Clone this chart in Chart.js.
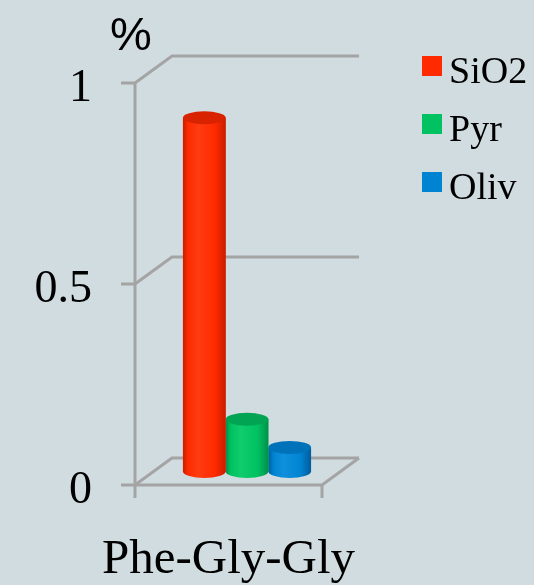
<!DOCTYPE html>
<html>
<head>
<meta charset="utf-8">
<script src="https://cdn.jsdelivr.net/npm/chart.js@4/dist/chart.umd.min.js"></script>
<style>
  html, body { margin: 0; padding: 0; background: #d0dce0; }
  #wrap { width: 534px; height: 585px; }
</style>
</head>
<body>
<div id="wrap"><canvas id="chart" width="534" height="585"></canvas></div>
<script>
const categories = ['Phe-Gly-Gly'];
const seriesNames = ['SiO2', 'Pyr', 'Oliv'];
const sio2Values = [0.88];
const pyrValues = [0.13];
const olivValues = [0.06];
const yTicks = [0, 0.5, 1];
const yLabels = ['0', '0.5', '1'];

const palette = [
    { mid: '#ff2a00', light: '#ff3c10', dark: '#c81e00', top: '#d92200' },
    { mid: '#00c262', light: '#10cc6c', dark: '#009048', top: '#00a452' },
    { mid: '#0084d2', light: '#1090dc', dark: '#005c9c', top: '#0072ba' }
];

const GRID = '#a4a4a4';
const DX = 37, DY = 27;
const SERIF = '"Liberation Serif", "Times New Roman", serif';

function drawCylinder(ctx, bar, c) {
    const { x, y, base, width } = bar.getProps(['x', 'y', 'base', 'width'], true);
    const l = x - width / 2, r = x + width / 2, ry = 6.5;
    const g = ctx.createLinearGradient(l, 0, r, 0);
    g.addColorStop(0, c.dark);
    g.addColorStop(0.12, c.mid);
    g.addColorStop(0.35, c.light);
    g.addColorStop(0.75, c.mid);
    g.addColorStop(1, c.dark);
    ctx.fillStyle = g;
    ctx.beginPath();
    ctx.moveTo(l, y);
    ctx.lineTo(l, base);
    ctx.ellipse(x, base, width / 2, ry, 0, Math.PI, 0, true);
    ctx.lineTo(r, y);
    ctx.closePath();
    ctx.fill();
    ctx.fillStyle = c.top;
    ctx.beginPath();
    ctx.ellipse(x, y, width / 2, ry, 0, 0, Math.PI * 2);
    ctx.fill();
}

const frame3d = {
    id: 'frame3d',
    beforeDatasetsDraw(chart) {
        const { ctx, chartArea: a, scales: { y } } = chart;
        const y0 = y.getPixelForValue(0);
        ctx.save();
        ctx.strokeStyle = GRID;
        ctx.lineWidth = 3;
        yTicks.forEach(v => {
            const py = y.getPixelForValue(v);
            ctx.beginPath();
            ctx.moveTo(a.left - 14, py);
            ctx.lineTo(a.left, py);
            ctx.lineTo(a.left + DX, py - DY);
            ctx.lineTo(a.right + DX, py - DY);
            ctx.stroke();
        });
        ctx.beginPath();
        ctx.moveTo(a.left, y0);
        ctx.lineTo(a.right, y0);
        ctx.lineTo(a.right + DX, y0 - DY);
        ctx.stroke();
        ctx.beginPath();
        ctx.moveTo(a.left, a.top);
        ctx.lineTo(a.left, y0 + 13);
        ctx.moveTo(a.right, y0);
        ctx.lineTo(a.right, y0 + 13);
        ctx.stroke();
        ctx.restore();
        // bars stand in the middle of the floor depth
        ctx.save();
        ctx.translate(DX / 2, -DY / 2);
    },
    afterDatasetDraw(chart, args) {
        const meta = chart.getDatasetMeta(args.index);
        meta.data.forEach(bar => drawCylinder(chart.ctx, bar, palette[args.index]));
    },
    afterDatasetsDraw(chart) {
        chart.ctx.restore();
    },
    afterDraw(chart) {
        const ctx = chart.ctx;
        ctx.save();
        ctx.fillStyle = '#000';
        ctx.textBaseline = 'alphabetic';
        ctx.font = '47px "Liberation Sans", Arial, sans-serif';
        ctx.fillText('%', 110, 50);
        ctx.font = '38px ' + SERIF;
        seriesNames.forEach((name, i) => {
            const top = 56 + i * 58;
            ctx.fillStyle = palette[i].mid;
            ctx.fillRect(422, top, 20, 20);
            ctx.fillStyle = '#000';
            ctx.fillText(name, 449, top + 27);
        });
        ctx.restore();
    }
};

new Chart(document.getElementById('chart'), {
    type: 'bar',
    data: {
        labels: categories,
        datasets: [
            { label: seriesNames[0], data: sio2Values, backgroundColor: palette[0].mid },
            { label: seriesNames[1], data: pyrValues, backgroundColor: palette[1].mid },
            { label: seriesNames[2], data: olivValues, backgroundColor: palette[2].mid }
        ]
    },
    options: {
        responsive: false,
        animation: false,
        events: [],
        datasets: { bar: { categoryPercentage: 0.685, barPercentage: 1, borderWidth: 0, clip: false } },
        layout: { padding: { top: 83, right: 212, left: 0, bottom: 0 } },
        plugins: {
            legend: { display: false },
            tooltip: { enabled: false }
        },
        scales: {
            x: {
                grid: { display: false, drawTicks: false },
                border: { display: false },
                ticks: { color: '#000', font: { family: SERIF, size: 49 }, padding: 46, maxRotation: 0 },
                afterFit(scale) {
                    scale.height = 100;
                    scale.paddingLeft = 0;
                    scale.paddingRight = 0;
                }
            },
            y: {
                min: 0,
                max: 1,
                afterBuildTicks(scale) { scale.ticks = yTicks.map(v => ({ value: v })); },
                grid: { display: false, drawTicks: false },
                border: { display: false },
                ticks: {
                    color: '#000',
                    font: { family: SERIF, size: 46 },
                    padding: 43,
                    labelOffset: 6,
                    callback: (v) => yLabels[yTicks.indexOf(v)]
                },
                afterFit(scale) {
                    scale.width = 135;
                    scale.paddingTop = 0;
                    scale.paddingBottom = 0;
                }
            }
        }
    },
    plugins: [frame3d]
});
</script>
</body>
</html>
